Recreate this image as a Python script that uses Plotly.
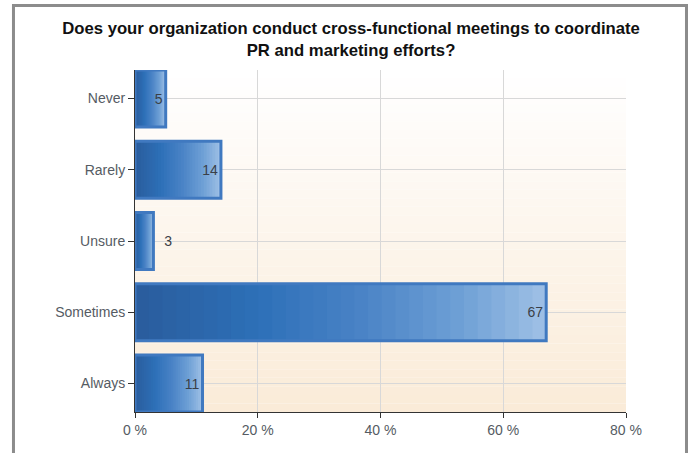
import plotly.graph_objects as go

categories = ["Never", "Rarely", "Unsure", "Sometimes", "Always"]
values = [5, 14, 3, 67, 11]
label_pos = ["inside", "inside", "outside", "inside", "inside"]
x_ticks = [0, 20, 40, 60, 80]
x_tick_labels = ["0 %", "20 %", "40 %", "60 %", "80 %"]

title_text = ("Does your organization conduct cross-functional meetings to coordinate"
              "<br>PR and marketing efforts?")

FONT = "Liberation Sans, Arial, sans-serif"

# gradient helpers (style only)
def lerp(c1, c2, t):
    return tuple(round(a + (b - a) * t) for a, b in zip(c1, c2))

def grad(stops, t):
    for i in range(len(stops) - 1):
        p0, c0 = stops[i]
        p1, c1 = stops[i + 1]
        if p0 <= t <= p1:
            return lerp(c0, c1, (t - p0) / (p1 - p0) if p1 > p0 else 0)
    return stops[-1][1]

bar_stops = [(0.0, (42, 92, 156)), (0.3, (45, 112, 184)), (0.55, (74, 131, 198)),
             (0.8, (112, 161, 214)), (1.0, (160, 193, 230))]

fig = go.Figure()

N = 30
for k in range(N):
    c = grad(bar_stops, (k + 0.5) / N)
    fig.add_trace(go.Bar(
        y=categories, x=[v * (N - k) / N for v in values], base=[v * k / N for v in values],
        orientation="h", marker=dict(color="rgb(%d,%d,%d)" % c, line=dict(width=0)),
        width=0.8, hoverinfo="skip", showlegend=False))

labels = [("  " + str(v)) if p == "outside" else str(v) for v, p in zip(values, label_pos)]
fig.add_trace(go.Bar(
    y=categories, x=values, orientation="h", width=0.8,
    marker=dict(color="rgba(0,0,0,0)", line=dict(color="#4079c0", width=3)),
    text=labels, textposition=label_pos,
    insidetextanchor="end",
    textfont=dict(family=FONT, size=14, color="#3a3f48"),
    cliponaxis=False, showlegend=False))

# plot background gradient
shapes = []
M = 40
bg_top = (255, 255, 255)
bg_bot = (250, 235, 216)
for i in range(M):
    c = lerp(bg_top, bg_bot, (i + 0.5) / M)
    shapes.append(dict(type="rect", xref="x domain", yref="y domain",
                       x0=0, x1=1, y0=1 - (i + 1) / M, y1=1 - i / M,
                       fillcolor="rgb(%d,%d,%d)" % c, line=dict(width=0), layer="below"))
# outer frame
shapes.append(dict(type="rect", xref="paper", yref="paper",
                   x0=-0.2475, x1=1.1232, y0=-0.2, y1=1.1886,
                   line=dict(color="#8c8c8c", width=3), fillcolor="rgba(0,0,0,0)", layer="above"))

fig.update_layout(
    width=691, height=453,
    margin=dict(l=135, r=65, t=70, b=41),
    paper_bgcolor="white", plot_bgcolor="rgba(0,0,0,0)",
    barmode="overlay",
    title=dict(text=title_text, x=0.508, xanchor="center", y=0.925, yanchor="top",
               font=dict(family=FONT, size=16.7, color="#111111", weight="bold")),
    shapes=shapes,
    font=dict(family=FONT, size=14, color="#555b63"),
)

fig.update_xaxes(range=[0, 80], tickvals=x_ticks, ticktext=x_tick_labels,
                 showgrid=True, gridcolor="#d8d8d8", gridwidth=1,
                 showline=True, linecolor="#333333", linewidth=1,
                 ticks="outside", ticklen=5, tickcolor="#333333",
                 zeroline=False, tickfont=dict(size=14, color="#555b63"))
fig.update_yaxes(range=[4.4, -0.4], type="category",
                 showgrid=True, gridcolor="#d8d8d8", gridwidth=1,
                 showline=True, linecolor="#333333", linewidth=1,
                 ticks="outside", ticklen=6, tickcolor="#333333",
                 tickfont=dict(size=14, color="#555b63"))

fig.write_html("out.html", config={"displayModeBar": False},
               post_script="document.body.style.margin='0';")
